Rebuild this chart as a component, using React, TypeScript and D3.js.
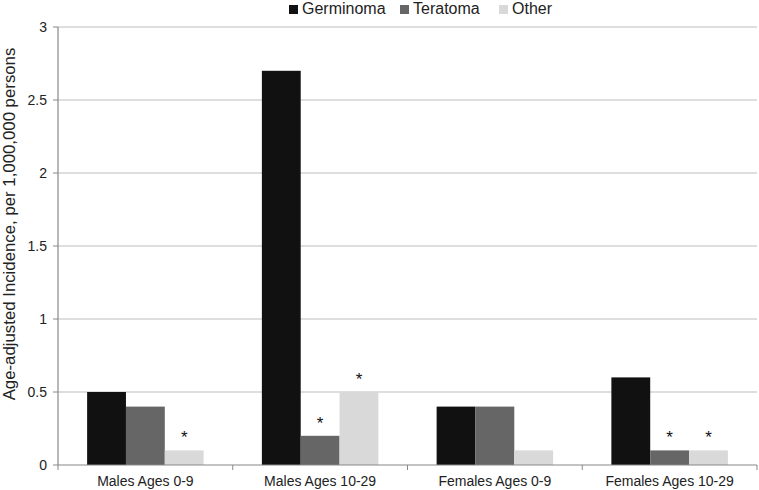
import React from "react";
import * as d3 from "d3";

const categories = ["Males Ages 0-9", "Males Ages 10-29", "Females Ages 0-9", "Females Ages 10-29"];
const seriesNames = ["Germinoma", "Teratoma", "Other"];
const germinoma = [0.5, 2.7, 0.4, 0.6];
const teratoma = [0.4, 0.2, 0.4, 0.1];
const other = [0.1, 0.5, 0.1, 0.1];
const asterisks = [
  [false, false, true],
  [false, true, true],
  [false, false, false],
  [false, true, true],
];
const yTicks = [0, 0.5, 1, 1.5, 2, 2.5, 3];
const colors = ["#111111", "#666666", "#d9d9d9"];

export default function App() {
  const W = 759, H = 490;
  const left = 58, right = 757, top = 27, bottom = 465;
  const x0 = d3.scaleBand().domain(categories).range([left, right]).paddingInner(0).paddingOuter(0);
  const bw = x0.bandwidth();
  const groupPad = bw / 6;
  const x1 = d3.scaleBand().domain(seriesNames).range([groupPad, bw - groupPad]).paddingInner(0).paddingOuter(0);
  const y = d3.scaleLinear().domain([0, 3]).range([bottom, top]);
  const series = [germinoma, teratoma, other];
  const font = "Liberation Sans, Arial, sans-serif";
  const legendX = [289, 400, 499];

  return (
    <svg width={W} height={H} style={{ position: "absolute", left: 0, top: 0, background: "#fff" }} fontFamily={font}>
      {yTicks.map((t) => (
        <g key={t}>
          {t > 0 && <line x1={left} x2={right} y1={y(t)} y2={y(t)} stroke="#bdbdbd" strokeWidth={1.2} />}
          <line x1={left - 5} x2={left} y1={y(t)} y2={y(t)} stroke="#888" />
          <text x={left - 11} y={y(t)} dy="0.35em" textAnchor="end" fontSize={14} fill="#222">{t}</text>
        </g>
      ))}
      {categories.map((c, ci) => (
        <g key={c} transform={`translate(${x0(c)},0)`}>
          {seriesNames.map((s, si) => {
            const v = series[si][ci];
            const bx = x1(s)!;
            return (
              <g key={s}>
                <rect x={bx} y={y(v)} width={x1.bandwidth()} height={bottom - y(v)} fill={colors[si]} />
                {asterisks[ci][si] && (
                  <text x={bx + x1.bandwidth() / 2} y={y(v) - 7} textAnchor="middle" fontSize={17} fill="#111">*</text>
                )}
              </g>
            );
          })}
          <text x={bw / 2} y={486} textAnchor="middle" fontSize={14} fill="#222">{c}</text>
        </g>
      ))}
      <line x1={left} x2={right} y1={bottom} y2={bottom} stroke="#888" strokeWidth={1.2} />
      <line x1={left} x2={left} y1={top} y2={bottom} stroke="#888" strokeWidth={1.2} />
      {categories.map((c) => (
        <line key={c} x1={x0(c)!} x2={x0(c)!} y1={bottom} y2={bottom + 5} stroke="#888" />
      ))}
      <line x1={right} x2={right} y1={bottom} y2={bottom + 5} stroke="#888" />
      <text transform={`translate(15,224) rotate(-90)`} textAnchor="middle" fontSize={16.8} fill="#222">
        Age-adjusted Incidence, per 1,000,000 persons
      </text>
      {seriesNames.map((s, i) => (
        <g key={s}>
          <rect x={legendX[i]} y={5} width={9} height={9} fill={colors[i]} />
          <text x={legendX[i] + 13} y={14} fontSize={16} fill="#222">{s}</text>
        </g>
      ))}
    </svg>
  );
}
